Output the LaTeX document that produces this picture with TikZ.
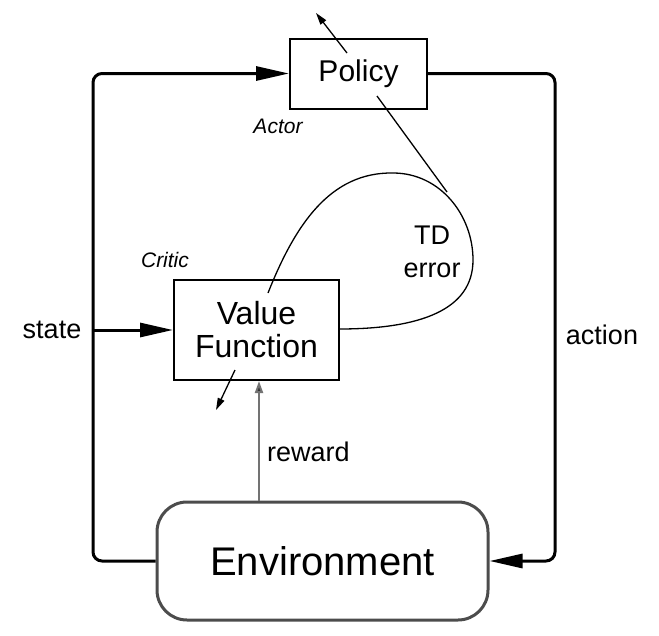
\documentclass[tikz,border=0pt]{standalone}
\usepackage{fontspec}
\setmainfont{Liberation Sans}
\usetikzlibrary{arrows.meta}
\begin{document}
\begin{tikzpicture}[x=1pt,y=-1pt,
  boxnode/.style={draw=black,line width=2pt,inner sep=0pt,align=center,fill=white},
  mainline/.style={line width=3pt,rounded corners=9pt,-{Triangle[length=33pt,width=14pt]}},
  thinline/.style={line width=1.3pt},
  smallarrow/.style={line width=1.3pt,-{Triangle[length=12pt,width=7pt]}},
  lbl/.style={inner sep=0pt,align=center,font=\fontsize{27}{33}\selectfont},
  itlbl/.style={inner sep=0pt,font=\fontsize{21}{25}\selectfont\itshape}]
\useasboundingbox (0,0) rectangle (659,635);
% nodes
\node[boxnode,minimum width=137pt,minimum height=70pt,font=\fontsize{30}{36}\selectfont] (Policy) at (358.5,73.5) {Policy};
\node[boxnode,minimum width=165pt,minimum height=100pt,font=\fontsize{32}{33}\selectfont] (VF) at (256.5,330) {Value\\Function};
\node[draw=black!70,line width=3pt,rounded corners=30pt,inner sep=0pt,minimum width=331pt,minimum height=118pt,font=\fontsize{40}{44}\selectfont] (Env) at (322.5,561) {Environment};
% coordinates
\coordinate (tl) at (93,73.5);
\coordinate (bl) at (93,561);
\coordinate (sj) at (93,330);
\coordinate (tr) at (555,73.5);
\coordinate (br) at (555,561);
\coordinate (pa) at (347,53);
\coordinate (pb) at (316,13);
\coordinate (va) at (235,370);
\coordinate (vb) at (216,410);
\coordinate (pl) at (377,96);
\coordinate (pm) at (447,192);
\coordinate (ls) at (268,293);
\coordinate (le) at (339,329);
% main loop
\draw[mainline] (Env.west) -- (bl) -- (tl) -- (Policy.west);
\draw[mainline] (Policy.east) -- (tr) -- (br) -- (Env.east);
\draw[mainline] (sj) -- (VF.west);
% reward
\draw[line width=2pt,draw=black!55,-{Triangle[length=12pt,width=8pt,fill=black!80]}] (Env.north -| 259,0) -- (VF.south -| 259,0);
% TD error loop
\draw[thinline] (ls) .. controls (295,225) and (330,172) .. (393,173)
  .. controls (440,173) and (473,215) .. (473,260)
  .. controls (473,310) and (420,329) .. (le);
\draw[thinline] (pl) -- (pm);
% output arrows
\draw[smallarrow] (pa) -- (pb);
\draw[smallarrow] (va) -- (vb);
% labels
\node[lbl] (tdlbl) at (432,252) {TD\\error};
\node[lbl] (state) at (52,330) {state};
\node[lbl] (action) at (602,335) {action};
\node[lbl] (reward) at (308.5,452) {reward};
\node[itlbl] (actor) at (278,126) {Actor};
\node[itlbl] (critic) at (165,260) {Critic};
\end{tikzpicture}
\end{document}
